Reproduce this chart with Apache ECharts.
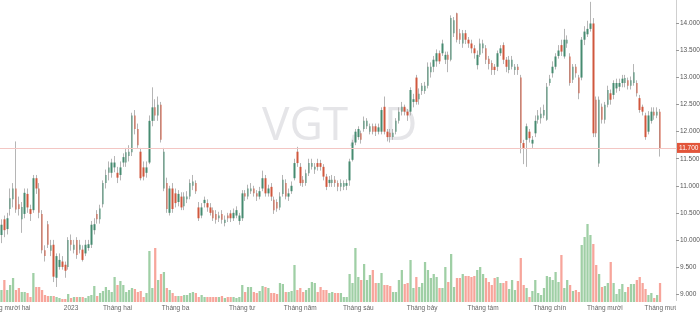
<!DOCTYPE html>
<html><head><meta charset="utf-8">
<script src="https://cdn.jsdelivr.net/npm/echarts@6/dist/echarts.min.js"></script>
<style>html,body{margin:0;padding:0;background:#fff}#c{width:700px;height:312px}</style>
</head><body><div id="c"></div>
<script>
// [open, close, low, high]
const ohlc = [
[10.09,10.28,9.94,10.38],[10.38,10.18,10.05,10.45],[10.2,10.4,10.1,10.5],[10.57,10.77,10.45,10.95],[10.75,10.95,10.6,11.05],
[10.95,10.56,10.5,11.82],[10.66,10.57,10.45,10.8],[10.38,10.61,10.13,10.7],[10.48,10.87,10.4,10.95],[10.85,10.6,10.5,10.95],
[10.57,10.48,10.35,10.65],[10.55,11.14,10.5,11.2],[11.14,10.95,10.85,11.2],[10.95,10.5,10.4,11.05],[10.48,9.81,9.75,10.55],
[9.81,9.7,9.6,9.9],[10.29,9.91,9.85,10.35],[9.8,9.9,9.7,10.0],[9.91,9.32,9.22,10.0],[9.3,9.7,9.13,9.75],
[9.5,9.63,9.45,9.75],[9.6,9.5,9.45,9.7],[9.54,9.43,9.3,9.6],[9.5,10.0,9.45,10.05],[10.0,9.91,9.8,10.1],
[9.82,9.91,9.75,10.0],[10.0,9.72,9.65,10.05],[9.82,9.91,9.75,10.0],[9.82,9.63,9.6,9.9],[9.75,9.91,9.7,10.0],
[9.85,9.92,9.8,10.0],[9.91,10.28,9.85,10.35],[10.18,10.29,10.1,10.4],[10.48,10.38,10.3,10.55],[10.38,10.58,10.3,10.65],
[10.66,11.05,10.6,11.1],[11.05,11.2,10.95,11.3],[11.24,11.34,11.1,11.45],[11.24,11.43,11.15,11.5],[11.34,11.43,11.25,11.55],
[11.24,11.15,11.05,11.35],[11.2,11.34,11.1,11.45],[11.43,11.53,11.35,11.6],[11.43,11.62,11.35,11.7],[11.55,11.63,11.45,11.75],
[11.62,12.3,11.55,12.35],[12.3,12.05,11.95,12.4],[12.05,11.75,11.7,12.15],[11.63,11.14,11.1,11.7],[11.34,11.17,11.1,11.45],
[11.24,11.34,11.15,11.45],[11.43,12.2,11.4,12.3],[12.2,12.45,12.1,12.82],[12.45,12.3,12.2,12.6],[12.3,12.5,12.2,12.65],
[12.5,11.85,11.8,12.55],[10.95,11.63,10.9,11.7],[11.05,10.57,10.5,11.15],[10.5,10.95,10.45,11.0],[10.95,10.57,10.5,11.05],
[10.86,10.68,10.6,10.95],[10.7,10.85,10.62,10.92],[10.8,10.6,10.55,10.88],[10.62,10.8,10.55,10.88],[10.75,10.8,10.68,10.9],
[10.8,11.05,10.75,11.12],[11.0,11.08,10.92,11.2],[11.05,10.9,10.85,11.1],[10.6,10.4,10.35,10.7],[10.45,10.6,10.4,10.68],
[10.68,10.74,10.6,10.8],[10.68,10.6,10.52,10.75],[10.6,10.5,10.45,10.68],[10.55,10.4,10.35,10.6],[10.48,10.37,10.3,10.55],
[10.4,10.45,10.33,10.52],[10.48,10.37,10.3,10.55],[10.31,10.37,10.25,10.45],[10.45,10.4,10.33,10.5],[10.49,10.4,10.33,10.55],
[10.4,10.5,10.35,10.58],[10.45,10.55,10.4,10.62],[10.35,10.45,10.28,10.5],[10.4,10.86,10.35,10.92],[10.86,10.8,10.72,10.92],
[10.8,10.95,10.75,11.02],[10.9,10.95,10.85,11.05],[10.95,10.86,10.8,11.0],[10.86,10.8,10.72,10.92],[10.8,10.9,10.75,10.98],
[10.95,11.14,10.9,11.28],[11.14,10.86,10.8,11.2],[10.86,10.95,10.8,11.02],[10.98,10.8,10.72,11.05],[10.74,10.55,10.48,10.8],
[10.7,10.58,10.52,10.75],[10.6,10.8,10.55,10.88],[10.85,11.11,10.8,11.2],[11.05,10.8,10.75,11.12],[10.8,10.86,10.72,10.95],
[10.9,11.0,10.85,11.08],[11.14,11.42,11.1,11.5],[11.63,11.42,11.35,11.72],[11.35,11.05,11.0,11.42],[11.11,11.05,10.98,11.18],
[11.05,11.23,11.0,11.3],[11.23,11.42,11.18,11.5],[11.35,11.42,11.3,11.5],[11.3,11.35,11.22,11.42],[11.42,11.35,11.28,11.5],
[11.42,11.35,11.28,11.48],[11.35,11.17,11.1,11.4],[11.17,10.98,10.92,11.22],[11.05,11.11,10.98,11.18],[11.05,11.11,10.98,11.2],
[11.11,11.05,10.98,11.18],[11.05,10.98,10.9,11.1],[10.98,11.05,10.9,11.12],[10.98,11.05,10.92,11.1],[11.0,11.05,10.92,11.12],
[11.1,11.45,11.0,11.5],[11.48,11.8,11.45,11.85],[11.8,12.0,11.75,12.05],[11.9,12.05,11.85,12.1],[11.97,11.85,11.78,12.02],
[12.05,12.2,12.0,12.28],[12.1,12.2,12.05,12.25],[12.0,12.1,11.95,12.15],[12.1,12.0,11.95,12.15],[12.1,12.0,11.92,12.15],
[12.0,12.08,11.95,12.15],[12.0,12.4,11.95,12.45],[12.46,12.0,11.95,12.65],[12.0,11.9,11.82,12.05],[11.98,11.9,11.8,12.05],
[11.9,11.98,11.85,12.05],[12.0,12.2,11.95,12.25],[12.2,12.37,12.15,12.45],[12.37,12.46,12.3,12.55],[12.46,12.37,12.3,12.5],
[12.37,12.3,12.2,12.42],[12.37,12.77,12.3,12.82],[12.55,12.6,12.45,12.7],[13.0,12.55,12.5,13.05],[12.6,12.7,12.5,12.8],
[12.75,12.85,12.68,12.9],[12.75,12.85,12.7,12.92],[12.85,13.2,12.8,13.28],[13.1,13.2,13.0,13.28],[13.2,13.33,13.1,13.4],
[13.3,13.45,13.2,13.52],[13.45,13.3,13.25,13.5],[13.45,13.63,13.4,13.7],[13.33,13.42,13.25,13.48],[13.42,13.33,13.1,13.48],
[13.33,14.1,13.3,14.15],[13.82,14.06,13.75,14.12],[14.19,13.7,13.65,14.2],[13.82,13.7,13.62,13.9],[13.63,13.82,13.55,13.88],
[13.82,13.7,13.62,13.88],[13.7,13.63,13.55,13.75],[13.63,13.54,13.45,13.7],[13.54,13.45,13.35,13.6],[13.23,13.42,13.15,13.5],
[13.42,13.63,13.38,13.72],[13.54,13.63,13.45,13.7],[13.54,13.33,13.25,13.6],[13.35,13.25,13.15,13.4],[13.27,13.14,13.05,13.32],
[13.2,13.14,13.05,13.25],[13.2,13.45,13.12,13.5],[13.45,13.54,13.4,13.6],[13.6,13.33,13.25,13.65],[13.33,13.2,13.1,13.38],
[13.14,13.33,13.08,13.4],[13.2,13.33,13.15,13.4],[13.14,13.2,13.05,13.25],[13.2,13.14,13.05,13.25],[13.0,11.79,11.6,13.05],
[11.79,11.7,11.4,11.85],[11.85,12.1,11.35,12.15],[12.0,11.88,11.8,12.05],[11.78,11.85,11.7,11.92],[11.97,12.2,11.9,12.3],
[12.22,12.3,12.15,12.4],[12.25,12.33,12.15,12.45],[12.3,12.4,12.25,12.5],[12.22,12.83,12.2,12.9],[12.9,12.98,12.85,13.05],
[13.08,13.2,13.0,13.3],[13.2,13.39,13.15,13.45],[13.4,13.5,13.35,13.6],[13.6,13.48,13.4,13.7],[13.39,13.7,13.35,13.9],
[13.63,13.7,13.55,13.78],[13.39,12.9,12.85,13.45],[12.96,13.2,12.9,13.25],[13.2,13.08,13.0,13.25],[13.0,12.71,12.6,13.05],
[13.0,13.7,12.95,13.75],[13.7,13.85,13.6,13.95],[13.8,13.9,13.75,14.05],[13.9,14.0,13.85,14.4],[14.0,11.97,11.9,14.1],
[12.59,11.97,11.9,12.65],[11.41,12.59,11.35,12.65],[12.46,12.22,12.15,12.52],[12.22,12.5,12.15,12.55],[12.5,12.77,12.45,12.85],
[12.71,12.59,12.5,12.78],[12.68,12.9,12.6,12.95],[12.8,12.9,12.72,12.98],[12.83,12.9,12.75,12.98],[12.9,12.98,12.82,13.05],
[12.9,12.99,12.82,13.05],[12.95,12.85,12.78,13.0],[12.85,12.95,12.78,13.02],[12.9,13.1,12.85,13.25],[12.9,12.71,12.65,12.95],
[12.62,12.4,12.35,12.68],[12.46,12.37,12.3,12.5],[12.3,11.9,11.85,12.35],[12.0,12.3,11.95,12.38],[12.2,12.37,12.15,12.45],
[12.37,12.3,12.22,12.45],[12.3,12.37,12.25,12.45],[12.37,11.7,11.54,12.42]
];
// volume, x10,000 shares
const volume = [
60,110,60,85,120,60,70,50,50,45,25,145,75,75,60,35,30,30,30,25,
20,15,15,40,20,25,25,25,25,20,30,35,80,30,45,55,75,60,50,125,
85,105,85,50,60,70,65,50,55,25,45,255,70,270,110,140,150,70,60,45,
30,30,30,35,35,45,50,45,25,35,25,25,25,25,25,25,30,20,25,25,
25,20,25,85,50,75,75,50,45,55,80,75,70,45,45,40,95,90,50,50,
55,185,60,70,50,60,70,100,95,50,75,60,60,45,50,45,45,45,25,25,
140,95,270,125,110,190,110,135,160,95,95,145,85,85,80,50,50,110,160,90,
95,210,70,125,75,95,200,160,120,140,125,70,70,175,100,240,75,120,120,140,
130,130,125,130,160,175,140,120,100,85,120,125,95,95,105,65,110,60,105,220,
85,70,25,55,110,45,35,70,130,125,110,150,100,235,70,110,85,55,60,50,
285,325,390,335,290,185,140,75,80,95,200,95,40,65,90,50,75,90,90,110,
125,95,65,35,45,20,35,95
];
const priceTicks = [9, 9.5, 10, 10.5, 11, 11.5, 12, 12.5, 13, 13.5, 14];
const monthTickIndex = [2, 24, 40, 60, 83, 103, 123, 145, 166, 189, 208, 230];
const monthTickLabel = ['Tháng mười hai', '2023', 'Tháng hai', 'Tháng ba', 'Tháng tư', 'Tháng năm', 'Tháng sáu', 'Tháng bảy', 'Tháng tám', 'Tháng chín', 'Tháng mười', 'Tháng mười một'];
const lastPrice = 11.7;
const totalSlots = 233;
const watermarkSymbol = 'VGT,';
const watermarkInterval = 'D';

const categories = Array.from({length: totalSlots}, (_, i) => String(i));
const bodies = ohlc.map(d => [d[0], d[1], Math.min(d[0], d[1]), Math.max(d[0], d[1])]);
const UP = '#468b70', DOWN = '#d0573d', VUP = '#9fcfa5', VDOWN = '#f7a59b';

const chart = echarts.init(document.getElementById('c'), null, {renderer: 'canvas'});
chart.setOption({
  animation: false,
  backgroundColor: '#ffffff',
  textStyle: {fontFamily: 'Liberation Sans'},
  grid: {left: 0, right: 24, top: 0, bottom: 10, containLabel: false, outerBoundsMode: 'none'},
  graphic: [
    {type: 'text', left: 262, top: 104, z: 0, silent: true,
     style: {text: watermarkSymbol, font: '46px "Open Sans"', fill: '#e5e5e8'}},
    {type: 'text', left: 384, top: 104, z: 0, silent: true,
     style: {text: watermarkInterval, font: '46px "Open Sans"', fill: '#e5e5e8'}},
    {type: 'rect', z: 100, silent: true, shape: {x: 676, y: 301, width: 24, height: 11}, style: {fill: '#ffffff'}}
  ],
  xAxis: {
    type: 'category', data: categories, boundaryGap: true,
    axisLine: {show: false}, axisTick: {show: false}, splitLine: {show: false},
    axisLabel: {
      interval: (i) => monthTickIndex.indexOf(i) >= 0,
      formatter: (v, i) => { const k = monthTickIndex.indexOf(i); return k >= 0 ? monthTickLabel[k] : ''; },
      fontSize: 6.5, color: '#666', margin: 3, hideOverlap: false
    }
  },
  yAxis: [{
    type: 'value', position: 'right', min: 8.852, max: 14.434, scale: true,
    splitLine: {show: false},
    axisLine: {show: true, lineStyle: {color: '#cfcfcf', width: 1}},
    axisTick: {show: true, length: 3, customValues: priceTicks, lineStyle: {color: '#999'}},
    axisLabel: {customValues: priceTicks, formatter: (v) => v.toFixed(3), fontSize: 6.5, color: '#555', margin: 4}
  }, {
    type: 'value', min: 0, max: 1510, show: false, splitLine: {show: false}
  }],
  series: [{
    type: 'bar', name: 'volume', xAxisIndex: 0, yAxisIndex: 1, data: volume, barWidth: '78%',
    itemStyle: {color: (p) => ohlc[p.dataIndex][1] >= ohlc[p.dataIndex][0] ? VUP : VDOWN},
    silent: true
  }, {
    type: 'candlestick', name: 'range', yAxisIndex: 0, data: ohlc, barWidth: 1,
    itemStyle: {color: '#b5b5b5', color0: '#b5b5b5', borderColor: '#b5b5b5', borderColor0: '#b5b5b5', borderWidth: 1},
    markLine: {
      silent: true, symbol: 'none', animation: false,
      lineStyle: {color: '#f3c6c3', type: 'solid', width: 1},
      label: {show: true, position: 'end', distance: 1, formatter: (p) => p.value.toFixed(3),
              backgroundColor: '#e2553a', color: '#fff', fontSize: 6.5, padding: [2, 2, 1, 2]},
      data: [{yAxis: lastPrice}]
    }
  }, {
    type: 'candlestick', name: 'body', yAxisIndex: 0, data: bodies, barWidth: 2,
    itemStyle: {color: UP, color0: DOWN, borderColor: UP, borderColor0: DOWN, borderWidth: 0}
  }]
});
</script>
</body></html>
